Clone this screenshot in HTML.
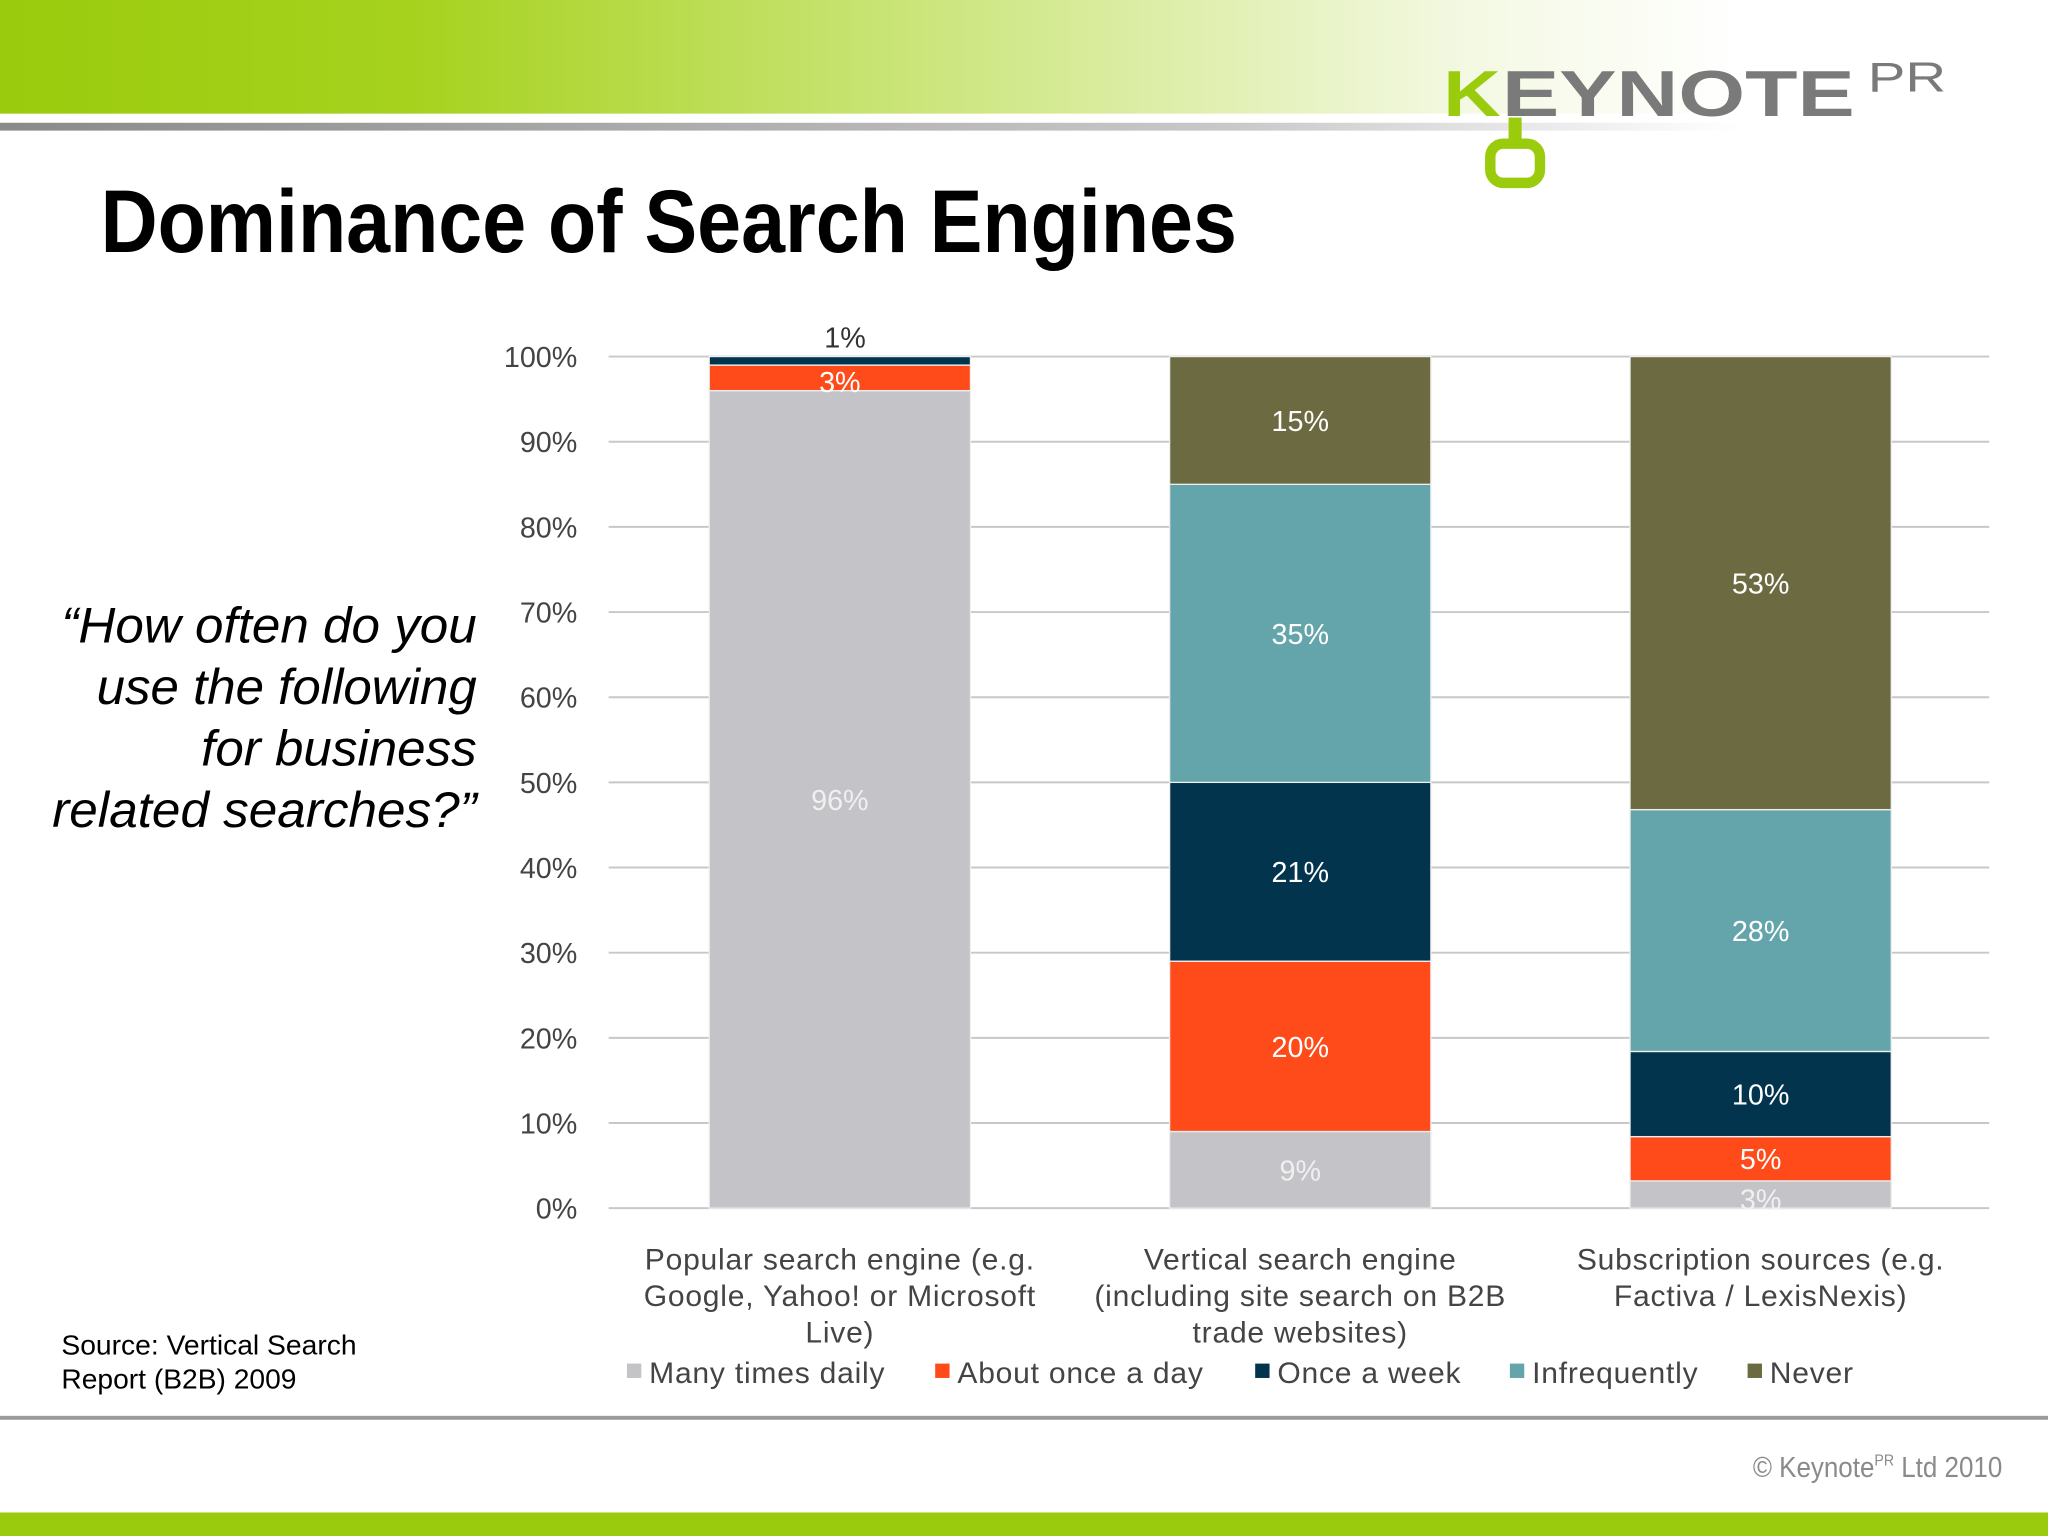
<!DOCTYPE html>
<html><head><meta charset="utf-8"><style>
html,body{margin:0;padding:0;background:#fff}
svg{display:block}
text{font-family:"Liberation Sans",sans-serif}
</style></head><body>
<svg id="chart" width="2048" height="1536" viewBox="0 0 1568 1176" xmlns="http://www.w3.org/2000/svg">
<defs>
<linearGradient id="gtop" x1="0" x2="1" y1="0" y2="0">
<stop offset="0" stop-color="#9acb0c"/><stop offset="0.2" stop-color="#a6d21e"/><stop offset="0.5" stop-color="#d3e98e"/><stop offset="0.72" stop-color="#f4f9e4"/><stop offset="0.85" stop-color="#ffffff"/></linearGradient>
<linearGradient id="gline" x1="0" x2="1" y1="0" y2="0">
<stop offset="0" stop-color="#8a8a8a"/><stop offset="0.6" stop-color="#c8c8c8"/><stop offset="0.85" stop-color="#ffffff"/></linearGradient>
</defs>
<rect x="0" y="0" width="1568" height="87" fill="url(#gtop)"/>
<rect x="0" y="94" width="1568" height="6" fill="url(#gline)"/>
<g>
<text x="1105" y="89" font-size="50" font-weight="bold" fill="#9acb0c" textLength="44" lengthAdjust="spacingAndGlyphs">K</text>
<text x="1150" y="89" font-size="50" font-weight="bold" fill="#7a7a7a" textLength="270" lengthAdjust="spacingAndGlyphs">EYNOTE</text>
<text x="1430" y="70" font-size="32" fill="#7a7a7a" textLength="60" lengthAdjust="spacingAndGlyphs">PR</text>
<rect x="1155" y="90" width="10" height="20" fill="#9acb0c"/>
<rect x="1141" y="110" width="38" height="30" rx="10" fill="none" stroke="#9acb0c" stroke-width="8"/>
</g>
<text x="77" y="193" font-size="68" font-weight="bold" fill="#000" textLength="870" lengthAdjust="spacingAndGlyphs">Dominance of Search Engines</text>
<g font-size="38" font-style="italic" fill="#000" text-anchor="end">
<text x="365" y="492" textLength="318" lengthAdjust="spacingAndGlyphs">“How often do you</text>
<text x="365" y="539" textLength="291" lengthAdjust="spacingAndGlyphs">use the following</text>
<text x="365" y="586" textLength="211" lengthAdjust="spacingAndGlyphs">for business</text>
<text x="365" y="633" textLength="325" lengthAdjust="spacingAndGlyphs">related searches?”</text>
</g>
<g font-size="21" fill="#000">
<text x="47" y="1037" textLength="226" lengthAdjust="spacingAndGlyphs">Source: Vertical Search</text>
<text x="47" y="1063" textLength="180" lengthAdjust="spacingAndGlyphs">Report (B2B) 2009</text>
</g>
<rect x="0" y="1084" width="1568" height="3" fill="#9a9a9a"/>
<text x="1533" y="1131" font-size="22" fill="#8a8a8a" text-anchor="end" textLength="191" lengthAdjust="spacingAndGlyphs">© Keynote<tspan font-size="12" dy="-9">PR</tspan><tspan dy="9"> Ltd 2010</tspan></text>
<rect x="0" y="1158" width="1568" height="18" fill="#9acb0c"/>
<g id="plot"></g>
</svg>
<script>
const categories=[["Popular search engine (e.g.","Google, Yahoo! or Microsoft","Live)"],["Vertical search engine","(including site search on B2B","trade websites)"],["Subscription sources (e.g.","Factiva / LexisNexis)"]];
const seriesNames=["Many times daily","About once a day","Once a week","Infrequently","Never"];
const manyDaily=[96,9,3.2];
const onceDay=[3,20,5.2];
const onceWeek=[1,21,10];
const infrequently=[0,35,28.4];
const never=[0,15,53.2];
const yTicks=[0,10,20,30,40,50,60,70,80,90,100];
const colors=["#c4c3c8","#ff4a1a","#02344e","#64a4ab","#6b6a40"];
const labelColors=["#f0f0f0","#ffffff","#ffffff","#ffffff","#ffffff"];
const series=[manyDaily,onceDay,onceWeek,infrequently,never];
const NS="http://www.w3.org/2000/svg";
const g=document.getElementById('plot');
const y0=925,yTop=273,xL=466,xR=1523;
const yS=v=>y0-(v/100)*(y0-yTop);
const xC=i=>643+i*352.5;
const bw=200;
function mk(t,a,parent){const e=document.createElementNS(NS,t);for(const k in a)e.setAttribute(k,a[k]);(parent||g).appendChild(e);return e;}
yTicks.forEach(t=>{
 const l=mk('line',{x1:xL,x2:xR,y1:yS(t),y2:yS(t),stroke:'#c8c8c8','stroke-width':1.5});
 
 
 const tx=mk('text',{x:442,y:yS(t)+8,'font-size':22,fill:'#444','text-anchor':'end'});
 tx.textContent=t+'%';
 
 
});
categories.forEach((c,i)=>{
 let acc=0;
 series.forEach((s,k)=>{
  const v=s[i]; if(v<=0)return;
  const yt=yS(acc+v), yb=yS(acc);
  const r=mk('rect',{x:xC(i)-bw/2,y:yt,width:bw,height:yb-yt,fill:colors[k],stroke:'#eee','stroke-width':1});
  
  
  let ly=(yt+yb)/2+8;
  let col=labelColors[k];
  if(i===0&&k===2){ly=yt-7;col='#333';}
  if(i===0&&k===1){ly=yb+1;}
  if(i===2&&k===0){ly=yb+1;}
  const t=mk('text',{x:xC(i)+(i===0&&k===2?4:0),y:ly,'font-size':22,fill:col,'text-anchor':'middle'});
  t.textContent=Math.round(v)+'%';
  
  
  acc+=v;
 });
 c.forEach((line,j)=>{
  const t=mk('text',{x:xC(i),y:972+j*28,'font-size':23,fill:'#444','text-anchor':'middle','letter-spacing':'0.6'});
  t.textContent=line;
  
  
 });
});
const legX=[480,716,961,1156,1338];
seriesNames.forEach((n,k)=>{
 const r=mk('rect',{x:legX[k],y:1044,width:11,height:11,fill:colors[k]});
 
 
 const t=mk('text',{x:legX[k]+17,y:1059,'font-size':23,fill:'#444','letter-spacing':'0.6'});
 t.textContent=n;
 
 
});
</script>
</body></html>
